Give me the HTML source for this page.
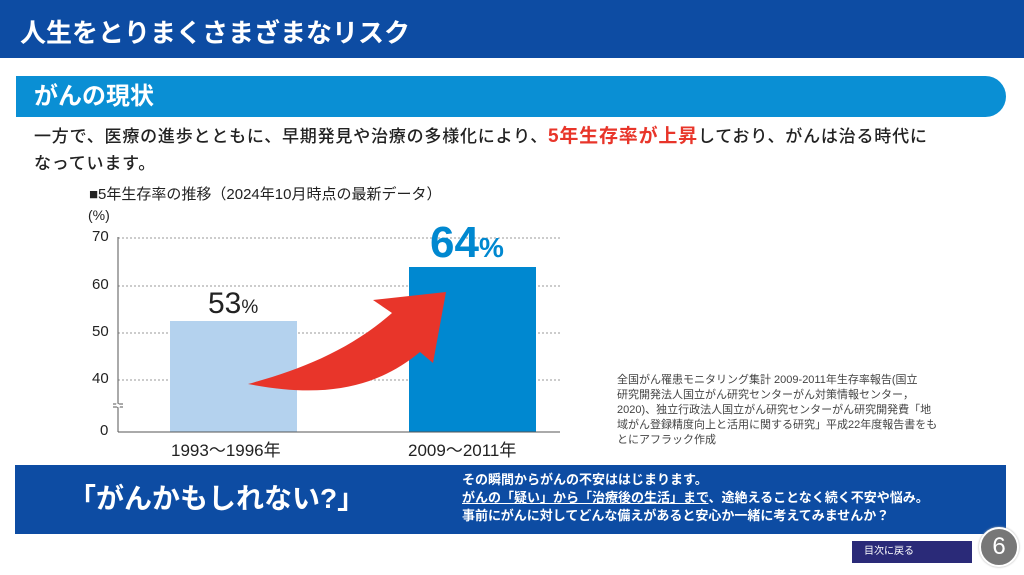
<!DOCTYPE html>
<html><head><meta charset="utf-8"><style>
*{margin:0;padding:0;box-sizing:border-box}
body{width:1024px;height:575px;overflow:hidden;background:#fff;font-family:"Liberation Sans","Noto Sans CJK JP",sans-serif;position:relative;color:#222}
.a{position:absolute;white-space:nowrap}
</style></head><body>
<div class="a" style="left:0;top:0;width:1024px;height:58px;background:#0d4ca3"></div>
<div class="a" style="left:20px;top:16px;color:#fff;font-size:26px;font-weight:bold;line-height:34px">人生をとりまくさまざまなリスク</div>
<div class="a" style="left:16px;top:76px;width:990px;height:41px;background:#0a8fd4;border-radius:0 21px 21px 0"></div>
<div class="a" style="left:34px;top:80px;color:#fff;font-size:24px;font-weight:bold;line-height:34px">がんの現状</div>
<div class="a" style="left:34px;top:123px;font-size:17px;line-height:27px;font-weight:500;letter-spacing:0.8px">一方で、医療の進歩とともに、早期発見や治療の多様化により、<span style="color:#e8352a;font-weight:bold;font-size:19px">5年生存率が上昇</span>しており、がんは治る時代に<br>なっています。</div>
<div class="a" style="left:89px;top:185px;font-size:15px;line-height:20px">■5年生存率の推移（2024年10月時点の最新データ）</div>
<svg class="a" style="left:0;top:0" width="1024" height="575">
<g stroke="#999" stroke-dasharray="2,2" stroke-width="1">
<line x1="118" y1="238" x2="560" y2="238"/><line x1="118" y1="286" x2="560" y2="286"/>
<line x1="118" y1="333" x2="560" y2="333"/><line x1="118" y1="380" x2="560" y2="380"/></g>
<rect x="170" y="321" width="127" height="111" fill="#b4d2ee"/>
<rect x="409" y="267" width="127" height="165" fill="#0088d0"/>
<line x1="118" y1="237" x2="118" y2="432" stroke="#555"/>
<line x1="118" y1="432" x2="560" y2="432" stroke="#555"/>
<line x1="113" y1="404" x2="123" y2="404" stroke="#555"/><line x1="113" y1="407" x2="123" y2="407" stroke="#555"/>
<line x1="116" y1="404.5" x2="120" y2="406.5" stroke="#fff" stroke-width="3"/>
<path d="M248,384 C300,370 350,350 392,313 L373,300 L446,292 L433,363 L420,352 C380,385 330,400 248,384 Z" fill="#e8352a"/>
</svg>
<div class="a" style="left:88px;top:207px;font-size:14px">(%)</div>
<div class="a" style="left:92px;top:228px;font-size:15px">70</div>
<div class="a" style="left:92px;top:276px;font-size:15px">60</div>
<div class="a" style="left:92px;top:323px;font-size:15px">50</div>
<div class="a" style="left:92px;top:370px;font-size:15px">40</div>
<div class="a" style="left:100px;top:422px;font-size:15px">0</div>
<div class="a" style="left:208px;top:286px;font-size:30px;line-height:36px;color:#222">53<span style="font-size:19px">%</span></div>
<div class="a" style="left:430px;top:218px;font-size:44px;line-height:50px;color:#0088d0;font-weight:bold">64<span style="font-size:28px">%</span></div>
<div class="a" style="left:171px;top:436px;font-size:17px">1993〜1996年</div>
<div class="a" style="left:408px;top:436px;font-size:17px">2009〜2011年</div>
<div class="a" style="left:617px;top:373px;font-size:11px;line-height:15px;color:#444">全国がん罹患モニタリング集計 2009-2011年生存率報告(国立<br>研究開発法人国立がん研究センターがん対策情報センター，<br>2020)、独立行政法人国立がん研究センターがん研究開発費「地<br>域がん登録精度向上と活用に関する研究」平成22年度報告書をも<br>とにアフラック作成</div>
<div class="a" style="left:15px;top:465px;width:991px;height:69px;background:#0d4ca3"></div>
<div class="a" style="left:68px;top:480px;color:#fff;font-size:28px;font-weight:bold;line-height:38px">「がんかもしれない?」</div>
<div class="a" style="left:462px;top:471px;color:#fff;font-size:13px;font-weight:bold;line-height:18px">その瞬間からがんの不安ははじまります。<br><span style="text-decoration:underline">がんの「疑い」から「治療後の生活」まで</span>、途絶えることなく続く不安や悩み。<br>事前にがんに対してどんな備えがあると安心か一緒に考えてみませんか？</div>
<div class="a" style="left:852px;top:541px;width:120px;height:22px;background:#2a2a78;color:#fff;font-size:10px;line-height:22px;padding-left:12px">目次に戻る</div>
<div class="a" style="left:979px;top:527px;width:40px;height:40px;border-radius:50%;background:#777;border:2px solid #fff;box-shadow:0 0 2px #aaa;color:#fff;font-size:24px;line-height:36px;text-align:center">6</div>
</body></html>
